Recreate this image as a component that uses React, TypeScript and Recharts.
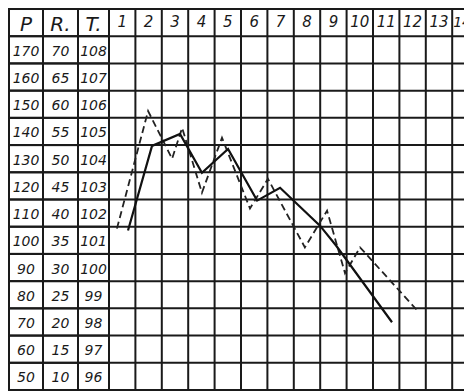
import * as React from 'react';
import { ComposedChart, Line, XAxis, YAxis, ReferenceLine } from 'recharts';

// chart values
const days = [1, 2, 3, 4, 5, 6, 7, 8, 9, 10, 11, 12, 13, 14];
const pulseTicks = [50, 60, 70, 80, 90, 100, 110, 120, 130, 140, 150, 160, 170];
const respTicks = [10, 15, 20, 25, 30, 35, 40, 45, 50, 55, 60, 65, 70];
const tempTicks = [96, 97, 98, 99, 100, 101, 102, 103, 104, 105, 106, 107, 108];
const headerLabels = ['P', 'R.', 'T.'];
const HEAD_ROW = 180;

// grid edges (column and row boundaries)
const dayEdges = [0.5, 1.5, 2.5, 3.5, 4.5, 5.5, 6.5, 7.5, 8.5, 9.5, 10.5, 11.5, 12.5, 13.5];
const rowEdges = [45, 55, 65, 75, 85, 95, 105, 115, 125, 135, 145, 155, 165, 175, 185];

// solid line (pulse scale)
const solidDays = [1.22, 2.13, 3.19, 4.02, 5.01, 6.11, 6.98, 8.49, 9.1, 11.22];
const solidVals = [103.6, 134.7, 139.1, 124.8, 133.6, 114.6, 119.3, 105.4, 98.1, 69.9];

// dashed line (pulse scale)
const dashDays = [0.8, 1.98, 2.89, 3.27, 4.02, 4.78, 5.84, 6.52, 7.92, 8.76, 9.44, 10.01, 12.17];
const dashVals = [104.3, 147.5, 130, 141.3, 117.5, 137.7, 111.7, 122.6, 97.4, 110.9, 87.9, 97.4, 74.3];

const solidData = solidDays.map((x, i) => ({ x, v: solidVals[i] }));
const dashData = dashDays.map((x, i) => ({ x, v: dashVals[i] }));

const INK = '#1a1a1a';
const ROW = 27.2;
const FONT = '"DejaVu Sans", sans-serif';
const COLS = [34, 35, 31]; // P, R, T column widths
const CHART_W = 464;

const RowTick = (props: any) => {
    const { x, y, payload } = props;
    const isHead = payload.value === HEAD_ROW;
    const i = pulseTicks.indexOf(payload.value);
    const labels = isHead ? headerLabels : [pulseTicks[i], respTicks[i], tempTicks[i]];
    const total = COLS[0] + COLS[1] + COLS[2];
    let left = x - total;
    return (
        <g>
            {COLS.map((w, k) => {
                const cx = left + w / 2;
                const cell = (
                    <g key={k}>
                        <rect x={left} y={y - ROW / 2} width={w} height={ROW} fill="none" stroke={INK} strokeWidth={2} />
                        <text x={cx} y={y + 1} textAnchor="middle" dominantBaseline="central"
                            fontFamily={FONT} fontStyle="italic" fontSize={isHead ? 20 : 14} fill={INK}>
                            {labels[k]}
                        </text>
                    </g>
                );
                left += w;
                return cell;
            })}
        </g>
    );
};

const DayTick = (props: any) => {
    const { x, y, payload } = props;
    // last column is cut by the page edge, keep its number inside
    const nearEdge = x + 9 > CHART_W;
    return (
        <text x={nearEdge ? CHART_W - 1 : x} y={y + 13} textAnchor={nearEdge ? 'end' : 'middle'} dominantBaseline="central"
            fontFamily={FONT} fontStyle="italic" fontSize={nearEdge ? 14 : 15} fill={INK}>
            {payload.value}
        </text>
    );
};

export default function App() {
    return (
        <div style={{ width: CHART_W, height: 383, background: '#fff' }}>
            <ComposedChart width={CHART_W} height={383} margin={{ top: 0, right: 0, bottom: 1, left: 1 }}>
                <XAxis dataKey="x" type="number" orientation="top" domain={[0.5, 14.25]} allowDataOverflow
                    ticks={days} interval={0} height={1} tickLine={false} axisLine={false} tickSize={0} tickMargin={0} tick={DayTick} />
                <YAxis yAxisId="p" domain={[45, 185]} ticks={[...pulseTicks, HEAD_ROW]} interval={0} width={100}
                    axisLine={false} tickLine={false} tickSize={0} tickMargin={0} tick={RowTick} />
                {rowEdges.map((v) => (
                    <ReferenceLine key={'h' + v} yAxisId="p" y={v} stroke={INK} strokeWidth={2} />
                ))}
                {dayEdges.map((d) => (
                    <ReferenceLine key={'v' + d} yAxisId="p" x={d} stroke={INK} strokeWidth={2} />
                ))}
                <Line yAxisId="p" data={dashData} dataKey="v" type="linear" stroke="#222" strokeWidth={1.8}
                    strokeDasharray="7 4" dot={false} isAnimationActive={false} />
                <Line yAxisId="p" data={solidData} dataKey="v" type="linear" stroke="#111" strokeWidth={2.2}
                    dot={false} isAnimationActive={false} />
            </ComposedChart>
        </div>
    );
}
